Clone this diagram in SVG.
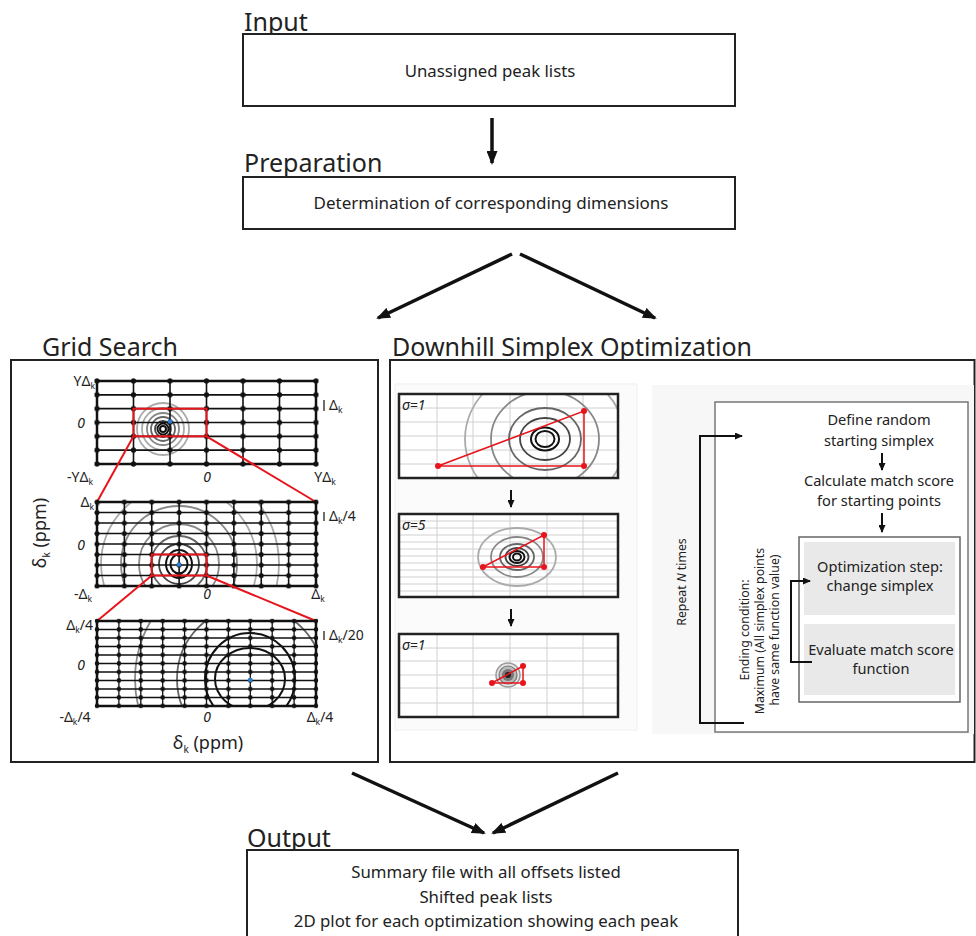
<svg xmlns="http://www.w3.org/2000/svg" width="976" height="936" viewBox="0 0 976 936">
<style>
text{font-family:"Noto Sans","Open Sans",sans-serif;fill:#222}
tspan{fill:#222}
.title{font-size:25px}
.box{fill:#fff;stroke:#222;stroke-width:2}
.lab{font-size:14px}
.it{font-style:italic}
.sub{font-size:8.5px}
.mid{text-anchor:middle}
.end{text-anchor:end}
.big{fill:none;stroke:#111;stroke-width:3.5}
.sm{fill:none;stroke:#111;stroke-width:2}
.gb{fill:none;stroke:#111;stroke-width:2.5}
.gl{fill:none;stroke:#111;stroke-width:1.6}
.gl3{fill:none;stroke:#111;stroke-width:1.3}
.red{fill:none;stroke:#e8141c;stroke-width:2}
.rdot{fill:#e8141c}
.lg{fill:none;stroke:#d0d0d0;stroke-width:1}
.pb{fill:none;stroke:#222;stroke-width:2.5}
.c0{fill:none;stroke:#111;stroke-width:2}
.c1{fill:none;stroke:#444;stroke-width:1.8}
.c2{fill:none;stroke:#666;stroke-width:1.8}
.c3{fill:none;stroke:#888;stroke-width:1.8}
.c4{fill:none;stroke:#aaa;stroke-width:1.8}
.ft{font-size:14.6px}
.rt{font-size:12.3px}
</style>
<defs>
<marker id="ah" markerUnits="userSpaceOnUse" viewBox="0 0 14 11" refX="12" refY="5.5" markerWidth="14" markerHeight="11" orient="auto"><path d="M0,0 L14,5.5 L0,11 Z" fill="#111"/></marker>
<marker id="as" markerUnits="userSpaceOnUse" viewBox="0 0 8 7" refX="7" refY="3.5" markerWidth="8" markerHeight="7" orient="auto"><path d="M0,0 L8,3.5 L0,7 Z" fill="#111"/></marker>
<pattern id="d1" patternUnits="userSpaceOnUse" x="78.75" y="374.083" width="36.5" height="13.833"><circle cx="18.25" cy="6.917" r="2.6" fill="#111"/></pattern>
<pattern id="d2" patternUnits="userSpaceOnUse" x="83.3125" y="496.75" width="27.375" height="10.5"><circle cx="13.6875" cy="5.25" r="2.5" fill="#111"/></pattern>
<pattern id="d3" patternUnits="userSpaceOnUse" x="86.05" y="616.75" width="21.9" height="8.5"><circle cx="10.95" cy="4.25" r="2.3" fill="#111"/></pattern>
<clipPath id="k1"><rect x="97" y="381" width="219" height="83"/></clipPath>
<clipPath id="k2"><rect x="97" y="502" width="219" height="84"/></clipPath>
<clipPath id="k3"><rect x="97" y="621" width="219" height="85"/></clipPath>
<clipPath id="ka"><rect x="399" y="394" width="219" height="84"/></clipPath>
<clipPath id="kb"><rect x="399" y="514" width="219" height="83"/></clipPath>
<clipPath id="kc"><rect x="399" y="634" width="219" height="83"/></clipPath>
</defs>

<g id="input">
<text class="title" x="244" y="31">Input</text>
<rect class="box" x="243" y="34" width="492" height="72"/>
<text class="mid" x="490" y="77" font-size="16.8">Unassigned peak lists</text>
</g>

<g id="preparation">
<text class="title" x="244" y="172">Preparation</text>
<rect class="box" x="243" y="177" width="492" height="52"/>
<text class="mid" x="491" y="209" font-size="17">Determination of corresponding dimensions</text>
</g>

<g id="output">
<text class="title" x="247" y="847">Output</text>
<rect class="box" x="247" y="850" width="491" height="100"/>
<text class="mid" x="486" y="878" font-size="16.8">Summary file with all offsets listed</text>
<text class="mid" x="486" y="903" font-size="16.8">Shifted peak lists</text>
<text class="mid" x="486" y="927" font-size="16.8">2D plot for each optimization showing each peak</text>
</g>

<g id="connectors">
<line class="big" x1="492" y1="118" x2="492" y2="163" marker-end="url(#ah)"/>
<line class="big" x1="512" y1="254" x2="378" y2="318" marker-end="url(#ah)"/>
<line class="big" x1="520" y1="254" x2="655" y2="318" marker-end="url(#ah)"/>
<line class="big" x1="352" y1="773" x2="484" y2="833" marker-end="url(#ah)"/>
<line class="big" x1="618" y1="773" x2="493" y2="833" marker-end="url(#ah)"/>
</g>

<g id="grid-search">
<text class="title" x="42" y="356">Grid Search</text>
<rect x="11" y="360" width="367" height="402" fill="#fff" stroke="#222" stroke-width="2"/>
<!-- plot 1 -->
<g clip-path="url(#k1)">
<circle class="c4" cx="163" cy="429" r="26"/>
<circle class="c4" cx="163" cy="429" r="21"/>
<circle class="c3" cx="163" cy="429" r="16"/>
<circle class="c2" cx="163" cy="429" r="12"/>
<circle class="c1" cx="163" cy="429" r="8"/>
<circle class="c0" cx="163" cy="429" r="5.5"/>
<circle class="c0" cx="163" cy="429" r="3" stroke-width="2.2"/>
</g>
<path class="gl" d="M133.5 381V464M170 381V464M206.5 381V464M243 381V464M279.5 381V464M97 394.83H316M97 408.67H316M97 422.5H316M97 436.33H316M97 450.17H316"/>
<rect class="gb" x="97" y="381" width="219" height="83"/>
<rect x="94" y="378" width="225" height="89" fill="url(#d1)"/>
<rect class="red" x="133.5" y="408.67" width="73" height="27.66"/>
<circle cx="170" cy="421.5" r="2.3" fill="#2a7fd4"/>
<text class="lab end" x="95" y="386">YΔ<tspan class="sub" dy="3">k</tspan></text>
<text class="lab it mid" x="81" y="428">0</text>
<text class="lab mid" x="80" y="482">-YΔ<tspan class="sub" dy="3">k</tspan></text>
<text class="lab it mid" x="207" y="482">0</text>
<text class="lab mid" x="325" y="482">YΔ<tspan class="sub" dy="3">k</tspan></text>
<path d="M324 400V411" stroke="#222" stroke-width="1.3"/>
<text class="lab" x="329" y="410">Δ<tspan class="sub" dy="3">k</tspan></text>
<line class="red" x1="133.5" y1="436.33" x2="97" y2="502"/>
<line class="red" x1="206.5" y1="436.33" x2="316" y2="502"/>
<!-- plot 2 -->
<g clip-path="url(#k2)">
<circle class="c4" cx="179" cy="564" r="100"/>
<circle class="c4" cx="179" cy="564" r="78"/>
<circle class="c3" cx="179" cy="564" r="58"/>
<circle class="c3" cx="179" cy="564" r="40"/>
<circle class="c2" cx="179" cy="564" r="28"/>
<circle class="c1" cx="179" cy="564" r="20"/>
<ellipse class="c0" cx="179" cy="564" rx="13" ry="14"/>
<ellipse class="c0" cx="179" cy="564" rx="8.5" ry="9.5"/>
</g>
<path class="gl" d="M124.375 502V586M151.75 502V586M179.125 502V586M206.5 502V586M233.875 502V586M261.25 502V586M288.625 502V586M97 512.5H316M97 523H316M97 533.5H316M97 544H316M97 554.5H316M97 565H316M97 575.5H316"/>
<rect class="gb" x="97" y="502" width="219" height="84"/>
<rect x="94" y="499" width="225" height="90" fill="url(#d2)"/>
<rect class="red" x="151.75" y="554.5" width="54.75" height="21"/>
<circle cx="179" cy="564.5" r="2.3" fill="#2a7fd4"/>
<text class="lab end" x="94" y="507">Δ<tspan class="sub" dy="3">k</tspan></text>
<text class="lab it mid" x="81" y="550">0</text>
<text class="lab mid" x="83" y="599">-Δ<tspan class="sub" dy="3">k</tspan></text>
<text class="lab it mid" x="207" y="599">0</text>
<text class="lab mid" x="318" y="599">Δ<tspan class="sub" dy="3">k</tspan></text>
<path d="M324 512V521" stroke="#222" stroke-width="1.3"/>
<text class="lab" x="329" y="521">Δ<tspan class="sub" dy="3">k</tspan><tspan dy="-3">/4</tspan></text>
<text transform="translate(46,533) rotate(-90)" class="mid" font-size="18">δ<tspan font-size="10" dy="4">k</tspan><tspan dy="-4"> (ppm)</tspan></text>
<line class="red" x1="151.75" y1="575.5" x2="97" y2="621"/>
<line class="red" x1="206.5" y1="575.5" x2="316" y2="621"/>
<!-- plot 3 -->
<g clip-path="url(#k3)">
<circle class="c3" cx="250" cy="679" r="115"/>
<circle class="c2" cx="250" cy="679" r="73"/>
<ellipse class="c0" cx="250" cy="679" rx="45" ry="46"/>
<ellipse class="c0" cx="250" cy="679" rx="35" ry="31"/>
</g>
<path class="gl3" d="M118.9 621V706M140.8 621V706M162.7 621V706M184.6 621V706M206.5 621V706M228.4 621V706M250.3 621V706M272.2 621V706M294.1 621V706M97 629.5H316M97 638H316M97 646.5H316M97 655H316M97 663.5H316M97 672H316M97 680.5H316M97 689H316M97 697.5H316"/>
<rect class="gb" x="97" y="621" width="219" height="85"/>
<rect x="94.5" y="618.5" width="224" height="90" fill="url(#d3)"/>
<circle cx="250.3" cy="680" r="2.3" fill="#2a7fd4"/>
<text class="lab end" x="93" y="630">Δ<tspan class="sub" dy="3">k</tspan><tspan dy="-3">/4</tspan></text>
<text class="lab it mid" x="81" y="670">0</text>
<text class="lab mid" x="75" y="722">-Δ<tspan class="sub" dy="3">k</tspan><tspan dy="-3">/4</tspan></text>
<text class="lab it mid" x="207" y="722">0</text>
<text class="lab mid" x="320" y="722">Δ<tspan class="sub" dy="3">k</tspan><tspan dy="-3">/4</tspan></text>
<path d="M324 631V640" stroke="#222" stroke-width="1.3"/>
<text class="lab" x="329" y="640">Δ<tspan class="sub" dy="3">k</tspan><tspan dy="-3">/20</tspan></text>
<text x="208" y="749" class="mid" font-size="18">δ<tspan font-size="10" dy="4">k</tspan><tspan dy="-4"> (ppm)</tspan></text>
</g>

<g id="downhill-simplex">
<text class="title" x="392" y="356">Downhill Simplex Optimization</text>
<rect x="390" y="360" width="584.5" height="402" fill="#fff" stroke="#222" stroke-width="2"/>
<rect x="395" y="384" width="242" height="346" fill="#fbfbfb" stroke="#f0f0f0" stroke-width="1"/>
<!-- plot A -->
<rect x="399" y="394" width="219" height="84" fill="#fff"/>
<path class="lg" d="M437 394V478M473 394V478M510 394V478M547 394V478M583 394V478M399 408H618M399 422H618M399 436H618M399 450H618M399 464H618"/>
<g clip-path="url(#ka)">
<ellipse class="c4" cx="545" cy="439" rx="80" ry="72" stroke-width="2"/>
<ellipse class="c3" cx="545" cy="439" rx="54" ry="48" stroke-width="2"/>
<ellipse class="c2" cx="545" cy="439" rx="36" ry="31" stroke-width="2"/>
<ellipse class="c1" cx="545" cy="439" rx="25" ry="21" stroke-width="2"/>
<ellipse class="c0" cx="545" cy="439" rx="14" ry="11.5"/>
<ellipse class="c0" cx="545" cy="439" rx="9.5" ry="8"/>
</g>
<rect class="pb" x="399" y="394" width="219" height="84"/>
<path d="M438 466L584 411L584 466Z" fill="none" stroke="#e8141c" stroke-width="1.5"/>
<circle class="rdot" cx="438" cy="466" r="3"/><circle class="rdot" cx="584" cy="411" r="3"/><circle class="rdot" cx="584" cy="466" r="3"/>
<text class="lab it" x="402" y="410">σ=1</text>
<!-- plot B -->
<rect x="399" y="514" width="219" height="83" fill="#fff"/>
<path class="lg" d="M437 514V597M473 514V597M510 514V597M547 514V597M583 514V597M399 521H618M399 528H618M399 535H618M399 542H618M399 549H618M399 556H618M399 563H618M399 570H618M399 577H618M399 584H618M399 591H618"/>
<g clip-path="url(#kb)">
<ellipse class="c4" cx="517" cy="557" rx="39" ry="29" stroke-width="2"/>
<ellipse class="c3" cx="517" cy="557" rx="26" ry="20" stroke-width="2"/>
<ellipse class="c2" cx="517" cy="557" rx="17" ry="13" stroke-width="2"/>
<ellipse class="c1" cx="517" cy="557" rx="11.5" ry="9" stroke-width="2"/>
<ellipse class="c0" cx="517" cy="557" rx="7.5" ry="6"/>
<ellipse class="c0" cx="517" cy="557" rx="4" ry="3.5" stroke-width="2.8"/>
</g>
<rect class="pb" x="399" y="514" width="219" height="83"/>
<path d="M483 567L544 535L544 567Z" fill="none" stroke="#e8141c" stroke-width="1.5"/>
<circle class="rdot" cx="483" cy="567" r="3"/><circle class="rdot" cx="544" cy="535" r="3"/><circle class="rdot" cx="544" cy="567" r="3"/>
<text class="lab it" x="402" y="530">σ=5</text>
<!-- plot C -->
<rect x="399" y="634" width="219" height="83" fill="#fff"/>
<path class="lg" d="M437 634V717M473 634V717M510 634V717M547 634V717M583 634V717M399 648H618M399 661H618M399 675H618M399 688H618M399 703H618"/>
<circle cx="508" cy="675" r="12" fill="#e4e4e4" stroke="#999" stroke-width="1.5"/>
<circle cx="508" cy="675" r="9" fill="#bbb" stroke="#777" stroke-width="1.2"/>
<circle cx="508" cy="675" r="6" fill="#777"/>
<circle cx="508" cy="675" r="3" fill="#222"/>
<rect class="pb" x="399" y="634" width="219" height="83"/>
<path d="M492 683L523 666L523 683Z" fill="none" stroke="#e8141c" stroke-width="1.5"/>
<circle class="rdot" cx="492" cy="683" r="3"/><circle class="rdot" cx="523" cy="666" r="3"/><circle class="rdot" cx="523" cy="683" r="3"/>
<text class="lab it" x="402" y="650">σ=1</text>
<line class="sm" x1="511" y1="490" x2="511" y2="507" marker-end="url(#as)"/>
<line class="sm" x1="511" y1="609" x2="511" y2="626" marker-end="url(#as)"/>
<!-- right flow panel -->
<rect x="652" y="385" width="322" height="349" fill="#f7f7f7"/>
<rect x="715" y="402" width="253" height="330" fill="#fff" stroke="#777" stroke-width="1.5"/>
<text class="ft mid" x="879" y="425">Define random</text>
<text class="ft mid" x="879" y="446">starting simplex</text>
<text class="ft mid" x="879" y="486">Calculate match score</text>
<text class="ft mid" x="879" y="506">for starting points</text>
<line class="sm" x1="882" y1="453" x2="882" y2="470" marker-end="url(#as)"/>
<line class="sm" x1="882" y1="513" x2="882" y2="532" marker-end="url(#as)"/>
<rect x="799" y="537" width="161" height="165" fill="#fff" stroke="#666" stroke-width="1.5"/>
<rect x="804" y="542" width="151" height="73" fill="#e9e9e9"/>
<rect x="804" y="624" width="151" height="71" fill="#e9e9e9"/>
<text class="ft mid" x="880" y="572">Optimization step:</text>
<text class="ft mid" x="880" y="591">change simplex</text>
<text class="ft mid" x="881" y="655">Evaluate match score</text>
<text class="ft mid" x="881" y="674">function</text>
<path class="sm" d="M812 662H791V581H810" marker-end="url(#as)"/>
<path class="sm" d="M744 723H700V436H742" marker-end="url(#as)"/>
<text class="rt mid" transform="translate(686,582) rotate(-90)">Repeat <tspan class="it">N</tspan> times</text>
<text class="rt mid" transform="translate(749,630) rotate(-90)">Ending condition:</text>
<text class="rt mid" transform="translate(764,631) rotate(-90)">Maximum (All simplex points</text>
<text class="rt mid" transform="translate(779,630) rotate(-90)">have same function value)</text>
</g>
</svg>
